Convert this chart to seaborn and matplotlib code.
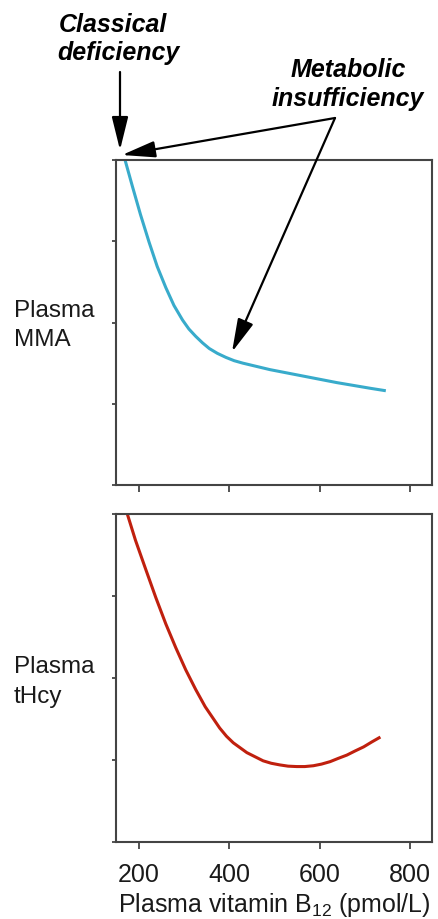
import matplotlib
matplotlib.use("Agg")
import matplotlib.pyplot as plt
import seaborn as sns
import pandas as pd

# Data (y in arbitrary units, 0-4)
mma_b12 = [170, 186, 204, 223, 241, 260, 278, 297, 311, 326, 341, 356, 374, 393, 411, 430, 460, 490,
           564, 638, 712, 746]
mma_val = [4.00, 3.68, 3.33, 2.99, 2.69, 2.43, 2.21, 2.03, 1.92, 1.83, 1.75, 1.68, 1.62, 1.57, 1.53,
           1.50, 1.46, 1.42, 1.34, 1.26, 1.19, 1.16]
thcy_b12 = [175, 193, 216, 238, 260, 282, 304, 326, 347, 363, 379, 394, 409, 424, 439, 457, 475, 493,
            512, 530, 549, 567, 586, 604, 623, 641, 660, 678, 697, 715, 734]
thcy_val = [4.00, 3.68, 3.32, 2.98, 2.66, 2.37, 2.10, 1.86, 1.65, 1.52, 1.39, 1.29, 1.21, 1.15, 1.09,
            1.04, 0.99, 0.96, 0.94, 0.925, 0.92, 0.92, 0.93, 0.95, 0.98, 1.02, 1.06, 1.11, 1.16, 1.22, 1.28]
x_ticks = [200, 400, 600, 800]
x_label = "Plasma vitamin B$_{12}$ (pmol/L)"
panel_labels = [["Plasma", "MMA"], ["Plasma", "tHcy"]]
note_classical = ["Classical", "deficiency"]
note_metabolic = ["Metabolic", "insufficiency"]

sns.set_theme(style="ticks")
plt.rcParams['font.family'] = ['Liberation Sans', 'DejaVu Sans']
plt.rcParams['mathtext.fontset'] = 'custom'
plt.rcParams['mathtext.rm'] = 'Liberation Sans'
plt.rcParams['mathtext.it'] = 'Liberation Sans:italic'

W, H = 438, 919
fig = plt.figure(figsize=(W/100, H/100), dpi=100)

def px(l, t, r, b):
    return [l/W, 1-b/H, (r-l)/W, (b-t)/H]

def fx(x):
    return x / W

def fy(y):
    return 1 - y / H

ax1 = fig.add_axes(px(116, 160, 432, 485))
ax2 = fig.add_axes(px(116, 514, 432, 842))

df1 = pd.DataFrame({"b12": mma_b12, "val": mma_val})
df2 = pd.DataFrame({"b12": thcy_b12, "val": thcy_val})

sns.lineplot(data=df1, x="b12", y="val", ax=ax1, color="#38ABCB", linewidth=2.2,
             solid_capstyle="butt", solid_joinstyle="round", clip_on=False)
sns.lineplot(data=df2, x="b12", y="val", ax=ax2, color="#C0200E", linewidth=2.2,
             solid_capstyle="butt", solid_joinstyle="round", clip_on=False)

txt = "#1a1a1a"
for ax in (ax1, ax2):
    ax.set_xlim(150, 848)
    ax.set_ylim(0, 4)
    ax.set_xticks(x_ticks)
    ax.set_yticks([0, 1, 2, 3, 4])
    ax.set_yticklabels([])
    ax.set_ylabel("")
    ax.set_xlabel("")
    for s in ax.spines.values():
        s.set_visible(True)
        s.set_color("#444444")
        s.set_linewidth(1.5)
    ax.tick_params(axis="x", direction="out", length=5, width=1.3, color="#444444",
                   labelsize=18, labelcolor=txt, pad=10)
    ax.tick_params(axis="y", direction="out", length=3.2, width=1.3, color="#444444")

ax1.set_xticklabels([])
ax2.set_xticklabels([str(t) for t in x_ticks])
ax2.set_xlabel(x_label, fontsize=18, color=txt, labelpad=3)

# panel labels (each line as its own text)
for (l1, l2), (b1, b2) in zip(panel_labels, [(317, 346), (673, 703)]):
    fig.text(fx(14), fy(b1), l1, fontsize=17.5, color=txt, ha="left", va="baseline")
    fig.text(fx(14), fy(b2), l2, fontsize=17.5, color=txt, ha="left", va="baseline")

# annotation texts
bi = dict(fontsize=18, fontweight="bold", fontstyle="italic", color="black", va="baseline", ha="center")
fig.text(fx(113), fy(32), note_classical[0], **bi)
fig.text(fx(118), fy(60), note_classical[1], **bi)
fig.text(fx(348), fy(77), note_metabolic[0], **bi)
fig.text(fx(348), fy(106), note_metabolic[1], **bi)

arrowprops = dict(arrowstyle="-|>,head_length=1.7,head_width=0.42", color="black", lw=1.6,
                  shrinkA=0, shrinkB=0)
ff = "figure fraction"
ax1.annotate("", xy=(fx(120), fy(150)), xycoords=ff,
             xytext=(fx(120), fy(72)), textcoords=ff, arrowprops=arrowprops)
ax1.annotate("", xy=(fx(122), fy(155)), xycoords=ff,
             xytext=(fx(335), fy(118)), textcoords=ff, arrowprops=arrowprops)
ax1.annotate("", xy=(fx(232), fy(352)), xycoords=ff,
             xytext=(fx(335), fy(118)), textcoords=ff, arrowprops=arrowprops)

fig.savefig("out.png", dpi=100, facecolor="white")
